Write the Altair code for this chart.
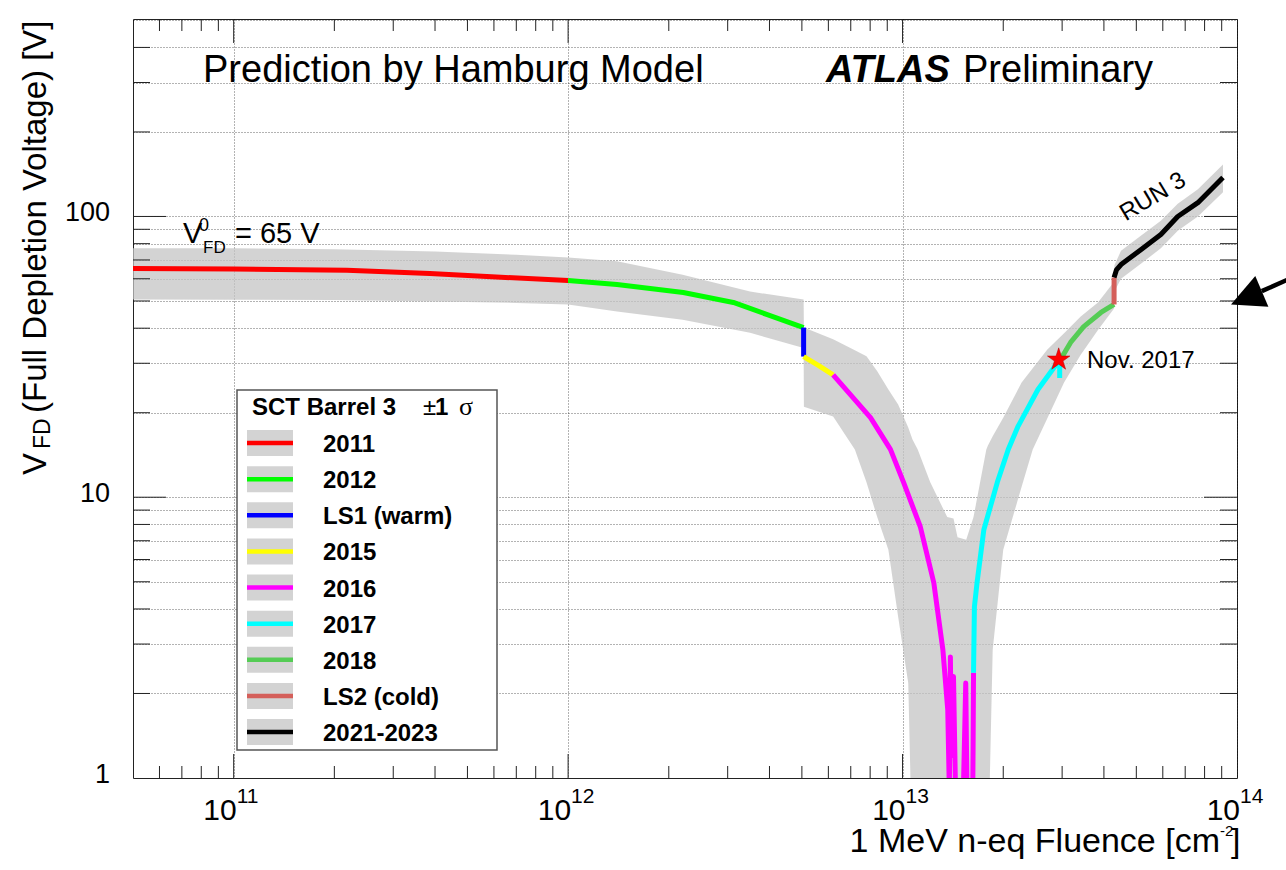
import altair as alt
import pandas as pd

FONT = "Liberation Sans"
W, H = 1104, 759
X_DOM = [5e10, 1e14]
Y_DOM = [1, 505]

# ---------------- data ----------------
periods = ["2011", "2012", "LS1 (warm)", "2015", "2016", "2017", "2018", "LS2 (cold)", "2021-2023"]
colors = ["#ff0000", "#00ff00", "#0000ff", "#ffff00", "#ff00ff", "#00ffff", "#55cc55", "#d45f5a", "#000000"]

fl_2011 = [5e10, 1e11, 2.18e11, 3.86e11, 6.1e11, 1e12]
v_2011 = [65.3, 65.0, 64.3, 62.6, 60.9, 59.1]
fl_2012 = [1e12, 1.4e12, 2.21e12, 3.12e12, 3.94e12, 5.06e12]
v_2012 = [59.1, 57.2, 53.6, 49.4, 44.7, 40.2]
fl_ls1 = [5.06e12, 5.06e12]
v_ls1 = [40.2, 31.7]
fl_2015 = [5.06e12, 5.6e12, 6.2e12]
v_2015 = [31.7, 29.5, 27.3]
fl_2016 = [6.2e12, 8.02e12, 9.2e12, 1.007e13, 1.13e13, 1.24e13, 1.32e13, 1.365e13, 1.38e13,
           1.39e13, 1.40e13, 1.42e13, 1.44e13, 1.52e13, 1.545e13, 1.56e13, 1.62e13, 1.625e13, 1.63e13]
v_2016 = [27.3, 19.2, 14.8, 11.3, 7.85, 4.96, 2.86, 1.75, 0.9,
          2.7, 1.2, 2.3, 0.9, 0.9, 2.18, 0.8, 0.8, 1.26, 2.37]
fl_2017 = [1.63e13, 1.64e13, 1.67e13, 1.75e13, 1.92e13, 2.07e13, 2.21e13, 2.54e13, 2.91e13, 2.95e13, 2.95e13]
v_2017 = [2.37, 4.07, 4.96, 7.66, 11.3, 14.8, 17.8, 24.2, 30.2, 30.6, 26.6]
fl_2018 = [2.95e13, 3.18e13, 3.48e13, 3.92e13, 4.29e13]
v_2018 = [30.6, 35.6, 40.5, 45.5, 48.6]
fl_ls2 = [4.29e13, 4.29e13]
v_ls2 = [48.6, 60.6]
fl_run3 = [4.29e13, 4.36e13, 4.5e13, 5.17e13, 5.92e13, 6.65e13, 7.64e13, 9.08e13]
v_run3 = [60.6, 64.5, 67.4, 76.3, 86.3, 100, 112, 137.7]

band_x = [5e10, 1e11, 2e11, 4e11, 7e11, 1e12, 1.4e12, 2.2e12, 3.5e12, 5.06e12, 5.07e12, 6.2e12,
          7.2e12, 7.8e12, 8.4e12, 9.07e12, 9.7e12, 1.04e13, 1.07e13, 1.11e13, 1.21e13, 1.36e13,
          1.42e13, 1.46e13, 1.55e13, 1.63e13, 1.78e13, 1.8e13, 1.86e13, 2.0e13, 2.27e13, 2.45e13,
          2.71e13, 3.04e13, 3.41e13, 3.84e13, 4.29e13, 4.30e13, 4.5e13, 5.17e13, 5.92e13, 6.65e13,
          7.64e13, 9.08e13]
band_hi = [77, 77, 76.5, 75, 73, 71.4, 69.3, 62, 54, 50.6, 40.2, 36.5,
           33.4, 31.8, 28.1, 24.2, 21.4, 17.7, 16.1, 14.8, 11.3, 8.5,
           8.4, 7.2, 7.06, 8.5, 14.8, 15.3, 16.5, 19.2, 25.6, 28.8,
           33.6, 38.4, 44, 49.4, 58.5, 67, 75.5, 85.5, 96.5, 111,
           125, 153]
band_lo = [50.6, 50.5, 50.4, 49.8, 49.2, 48.6, 45.9, 42.9, 38.5, 34, 21, 19.4,
           14.8, 11.3, 8.5, 6.5, 3.75, 2.18, 0.5, 0.5, 0.5, 0.5,
           0.5, 0.5, 0.5, 0.5, 0.5, 0.5, 2.86, 6.5, 10.9, 14.8,
           19.1, 25.6, 32.2, 39.4, 47, 54, 60, 68, 77, 89,
           100, 122]

star_x = [2.93e13]
star_y = [30.9]

arrow_head = (1.067e14, 51.3)
arrow_tail = [(1.186e14, 54.2), (1.556e14, 62.6)]

x_major = [1e11, 1e12, 1e13]
x_minor = [6e10, 7e10, 8e10, 9e10] + [m * 10 ** e for e in (11, 12, 13) for m in range(2, 10)]
y_major = [10, 100]
y_minor = [m * 10 ** e for e in (0, 1) for m in range(2, 10)] + [200, 300, 400]
x_grid = [1e11, 1e12, 1e13, 1e14]
y_grid = sorted(y_minor + y_major + [500])

x_lab_vals = [1e11, 1e12, 1e13, 1e14]
x_lab_exp = ["11", "12", "13", "14"]
y_lab_vals = [1, 10, 100]
y_lab_txt = ["1", "10", "100"]

# ---------------- helpers ----------------
AX = dict(grid=True, labels=False, ticks=False, domain=False, title=None,
          gridDash=[1, 2], gridColor="#000", gridOpacity=0.6, gridWidth=1)


def X(f):
    return alt.X(f"{f}:Q", scale=alt.Scale(type="log", domain=X_DOM, nice=False),
                 axis=alt.Axis(values=x_grid, **AX))


def Y(f):
    return alt.Y(f"{f}:Q", scale=alt.Scale(type="log", domain=Y_DOM, nice=False),
                 axis=alt.Axis(values=y_grid, **AX))


one = pd.DataFrame({"a": [0]})


def txt(text, x, y, size, **kw):
    return alt.Chart(one).mark_text(text=text, align=kw.pop("align", "left"),
                                    baseline=kw.pop("baseline", "alphabetic"),
                                    fontSize=size, font=kw.pop("font", FONT),
                                    color="#000", **kw).encode(x=alt.value(x), y=alt.value(y))


# ---------------- tables ----------------
rows = []
series = [(fl_2011, v_2011), (fl_2012, v_2012), (fl_ls1, v_ls1), (fl_2015, v_2015),
          (fl_2016, v_2016), (fl_2017, v_2017), (fl_2018, v_2018), (fl_ls2, v_ls2),
          (fl_run3, v_run3)]
for p, (xs, ys) in zip(periods, series):
    for i, (a, b) in enumerate(zip(xs, ys)):
        rows.append({"x": a, "y": b, "period": p, "o": i})
lines_df = pd.DataFrame(rows)
band_df = pd.DataFrame({"x": band_x, "hi": band_hi, "lo": band_lo})

layers = []

# band
layers.append(alt.Chart(band_df).mark_area(color="#c4c4c4", opacity=0.75, clip=True)
              .encode(x=X("x"), y=Y("hi"), y2="lo"))
# lines
layers.append(alt.Chart(lines_df).mark_line(strokeWidth=5, clip=True, strokeJoin="round")
              .encode(x=X("x"), y=Y("y"),
                      color=alt.Color("period:N", scale=alt.Scale(domain=periods, range=colors), legend=None),
                      order="o:Q"))
# star
STAR = ("M0,-1L0.225,-0.309L0.951,-0.309L0.363,0.118L0.588,0.809L0,0.382L-0.588,0.809"
        "L-0.363,0.118L-0.951,-0.309L-0.225,-0.309Z")
layers.append(alt.Chart(pd.DataFrame({"x": star_x, "y": star_y}))
              .mark_point(shape=STAR, size=560, filled=True, color="#ff0000", opacity=1,
                          stroke="#b00000", strokeWidth=0.5)
              .encode(x=X("x"), y=Y("y")))

# legend
layers.append(alt.Chart(one).mark_rect(fill="white", stroke="#555", strokeWidth=1.5)
              .encode(x=alt.value(104), x2=alt.value(364), y=alt.value(371), y2=alt.value(731)))
layers.append(txt("SCT Barrel 3", 119, 396, 24, fontWeight="bold"))
layers.append(txt("±", 290, 396, 24))
layers.append(txt("1", 302, 396, 24, fontWeight="bold"))
layers.append(txt("σ", 326, 396, 26, font="Liberation Serif"))
for i, (p, c) in enumerate(zip(periods, colors)):
    yc = 424 + 36.125 * i
    layers.append(alt.Chart(one).mark_rect(color="#c4c4c4", opacity=0.75)
                  .encode(x=alt.value(114), x2=alt.value(160), y=alt.value(yc - 13), y2=alt.value(yc + 13)))
    layers.append(alt.Chart(one).mark_rule(color=c, strokeWidth=4.5)
                  .encode(x=alt.value(114), x2=alt.value(160), y=alt.value(yc)))
    layers.append(txt(p, 190, yc + 9, 24, fontWeight="bold"))

# ticks (inside, all four sides)
def xticks(vals, y0, y1):
    return (alt.Chart(pd.DataFrame({"x": vals})).mark_rule(color="#222", strokeWidth=1)
            .encode(x=X("x"), y=alt.value(y0), y2=alt.value(y1)))


def yticks(vals, x0, x1):
    return (alt.Chart(pd.DataFrame({"y": vals})).mark_rule(color="#222", strokeWidth=1)
            .encode(y=Y("y"), x=alt.value(x0), x2=alt.value(x1)))


layers += [xticks(x_major, H, H - 24), xticks(x_minor, H, H - 12),
           xticks(x_major, 0, 24), xticks(x_minor, 0, 12),
           yticks(y_major, 0, 33), yticks(y_minor, 0, 17),
           yticks(y_major, W, W - 33), yticks(y_minor, W, W - 17)]

# tick labels
xl = pd.DataFrame({"x": x_lab_vals, "b": ["10"] * 4, "e": x_lab_exp})
layers.append(alt.Chart(xl).mark_text(align="right", baseline="alphabetic", fontSize=30, font=FONT, dx=3, color="#000")
              .encode(x=X("x"), y=alt.value(801), text="b:N"))
layers.append(alt.Chart(xl).mark_text(align="left", baseline="alphabetic", fontSize=21, font=FONT, dx=3, color="#000")
              .encode(x=X("x"), y=alt.value(784), text="e:N"))
yl = pd.DataFrame({"y": y_lab_vals, "t": y_lab_txt})
layers.append(alt.Chart(yl).mark_text(align="right", baseline="alphabetic", fontSize=27, font=FONT, dy=5, color="#000")
              .encode(y=Y("y"), x=alt.value(-23), text="t:N"))

# axis titles
layers.append(txt("V", -87, 456, 33, angle=270))
layers.append(txt("FD", -83, 430, 23, angle=270))
layers.append(txt("(Full Depletion Voltage) [V]", -87, 394, 33, angle=270))
layers.append(txt("1 MeV n-eq Fluence [cm", 1087, 833, 34, align="right"))
layers.append(txt("-2", 1087, 817, 15))
layers.append(txt("]", 1098, 833, 34))

# annotations
layers.append(txt("Prediction by Hamburg Model", 70, 63, 38))
layers.append(txt("ATLAS", 693, 63, 38, fontWeight="bold", fontStyle="italic"))
layers.append(txt("Preliminary", 830, 63, 38))
layers.append(txt("V", 50, 224, 29))
layers.append(txt("0", 66, 212, 18))
layers.append(txt("FD", 70, 234, 17))
layers.append(txt("= 65 V", 102, 224, 29))
layers.append(txt("Nov. 2017", 954, 349, 24))
layers.append(txt("RUN 3", 1020, 178, 24, align="center", baseline="middle", angle=329))

# arrow outside the frame
ar = pd.DataFrame({"x": [arrow_tail[0][0]], "y": [arrow_tail[0][1]],
                   "x2": [arrow_tail[1][0]], "y2": [arrow_tail[1][1]]})
layers.append(alt.Chart(ar).mark_rule(color="#000", strokeWidth=4.5)
              .encode(x=X("x"), y=Y("y"), x2="x2:Q", y2="y2:Q"))
layers.append(alt.Chart(pd.DataFrame({"x": [arrow_head[0]], "y": [arrow_head[1]]}))
              .mark_point(shape="M-1,0L1,-1L1,1Z", size=1122, angle=337, filled=True, color="#000", opacity=1)
              .encode(x=X("x"), y=Y("y")))

chart = (alt.layer(*layers)
         .properties(width=W, height=H, background="white",
                     padding={"left": 133, "top": 19, "right": 49, "bottom": 92},
                     autosize=alt.AutoSizeParams(type="none"))
         .configure_view(stroke="#222", strokeWidth=1))

chart.save("out.html", embed_options={"renderer": "svg", "actions": False})
